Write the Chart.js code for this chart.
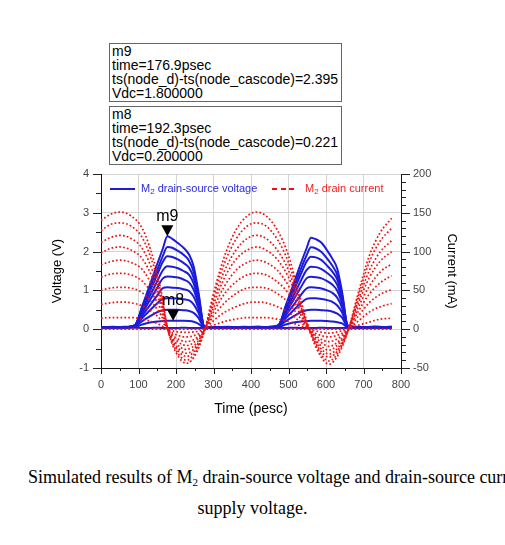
<!DOCTYPE html>
<html>
<head>
<meta charset="utf-8">
<script src="https://cdn.jsdelivr.net/npm/chart.js@4.4.1/dist/chart.umd.min.js"></script>
<style>
    body { margin: 0; background: #fff; width: 505px; height: 545px; overflow: hidden; position: relative; font-family: "Liberation Sans", Arial, sans-serif; }
    #wrap { position: absolute; left: 0; top: 0; width: 505px; height: 430px; }
    .mk { position: absolute; left: 109px; width: 229px; height: 57px; border: 1px solid #666; font-size: 14px; line-height: 14px; padding-left: 2px; color: #000; white-space: nowrap; overflow: hidden; }
    .lg { position: absolute; font-size: 11px; line-height: 12px; white-space: nowrap; }
    .lg sub { font-size: 8px; vertical-align: -2px; line-height: 0; }
    .swatch { position: absolute; height: 2px; }
    .cap { position: absolute; font-family: "Liberation Serif", "Times New Roman", serif; font-size: 18px; line-height: 20px; white-space: nowrap; color: #000; }
    .cap sub { font-size: 11px; vertical-align: -3px; line-height: 0; }
</style>
</head>
<body>
<div class="mk" style="top:43px">m9<br>time=176.9psec<br>ts(node_d)-ts(node_cascode)=2.395<br>Vdc=1.800000</div>
<div class="mk" style="top:106px">m8<br>time=192.3psec<br>ts(node_d)-ts(node_cascode)=0.221<br>Vdc=0.200000</div>
<div id="wrap"><canvas id="chart" width="505" height="430"></canvas></div>
<div class="swatch" style="left:110px;top:188px;width:25px;background:#1c1cdc"></div>
<div class="lg" style="left:141px;top:182px;color:#2a2ae0">M<sub>2</sub> drain-source voltage</div>
<div class="swatch" style="left:272px;top:188px;width:22px;background:repeating-linear-gradient(to right,#f01010 0 5px,transparent 5px 8.5px)"></div>
<div class="lg" style="left:305px;top:182px;color:#f02020">M<sub>2</sub> drain current</div>
<div class="cap" style="left:28px;top:467px">Simulated results of M<sub>2</sub> drain-source voltage and drain-source current versus</div>
<div class="cap" style="left:0;top:498px;width:505px;text-align:center">supply voltage.</div>
<script>
// time points (ps)
const tV = [0, 30, 60, 90, 110, 130, 150, 165, 177, 190, 205, 220, 235, 247, 260, 275, 300, 340, 380, 420, 450,
            473, 493, 513, 533, 548, 560, 573, 588, 603, 618, 630, 643, 658, 690, 730, 775];
const tI = [0, 25, 50, 80, 110, 140, 160, 178, 200, 228, 255, 277, 300, 330, 360, 390, 415, 440, 470, 500,
            527, 555, 580, 608, 635, 660, 685, 715, 745, 775];

// drain-source voltage (V), one per supply voltage
const v00 = [0.03, 0.04, 0.03, 0.04, 0.03, 0.03, 0.04, 0.03, 0.03, 0.03, 0.03, 0.04, 0.03, 0.03, 0.03, 0.03, 0.03, 0.04, 0.03, 0.03, 0.04,
             0.03, 0.03, 0.04, 0.03, 0.03, 0.03, 0.03, 0.04, 0.03, 0.03, 0.03, 0.03, 0.03, 0.04, 0.03, 0.03];
const v02 = [0.03, 0.04, 0.04, 0.06, 0.12, 0.17, 0.20, 0.21, 0.22, 0.221, 0.22, 0.22, 0.21, 0.19, 0.14, 0.04, 0.04, 0.03, 0.04, 0.04, 0.05,
             0.06, 0.12, 0.17, 0.20, 0.21, 0.22, 0.22, 0.22, 0.21, 0.20, 0.18, 0.15, 0.05, 0.04, 0.05, 0.04];
const v04 = [0.04, 0.04, 0.05, 0.07, 0.21, 0.33, 0.44, 0.49, 0.50, 0.50, 0.50, 0.49, 0.47, 0.42, 0.29, 0.05, 0.05, 0.04, 0.05, 0.05, 0.04,
             0.07, 0.21, 0.33, 0.44, 0.49, 0.50, 0.50, 0.49, 0.48, 0.45, 0.40, 0.30, 0.06, 0.05, 0.05, 0.04];
const v06 = [0.03, 0.05, 0.04, 0.08, 0.29, 0.48, 0.67, 0.78, 0.80, 0.80, 0.79, 0.77, 0.74, 0.64, 0.42, 0.06, 0.04, 0.05, 0.05, 0.04, 0.05,
             0.08, 0.29, 0.49, 0.67, 0.78, 0.80, 0.80, 0.78, 0.75, 0.70, 0.61, 0.43, 0.07, 0.05, 0.04, 0.05];
const v08 = [0.05, 0.04, 0.05, 0.09, 0.35, 0.61, 0.87, 1.06, 1.08, 1.07, 1.06, 1.03, 0.98, 0.84, 0.53, 0.06, 0.05, 0.06, 0.04, 0.05, 0.05,
             0.09, 0.36, 0.62, 0.88, 1.05, 1.08, 1.07, 1.05, 1.00, 0.93, 0.81, 0.55, 0.07, 0.04, 0.05, 0.06];
const v10 = [0.04, 0.06, 0.05, 0.09, 0.41, 0.74, 1.07, 1.31, 1.36, 1.35, 1.33, 1.28, 1.20, 1.02, 0.63, 0.07, 0.04, 0.05, 0.05, 0.06, 0.04,
             0.09, 0.42, 0.75, 1.08, 1.31, 1.35, 1.34, 1.31, 1.24, 1.14, 0.99, 0.65, 0.08, 0.05, 0.06, 0.04];
const v12 = [0.05, 0.05, 0.04, 0.10, 0.47, 0.85, 1.24, 1.52, 1.62, 1.61, 1.57, 1.50, 1.40, 1.18, 0.72, 0.07, 0.05, 0.04, 0.06, 0.05, 0.05,
             0.10, 0.48, 0.86, 1.25, 1.52, 1.61, 1.60, 1.55, 1.45, 1.32, 1.14, 0.74, 0.08, 0.06, 0.04, 0.05];
const v14 = [0.04, 0.05, 0.05, 0.10, 0.52, 0.97, 1.41, 1.74, 1.88, 1.86, 1.80, 1.71, 1.58, 1.33, 0.80, 0.08, 0.04, 0.05, 0.05, 0.04, 0.06,
             0.10, 0.53, 0.98, 1.42, 1.74, 1.87, 1.85, 1.78, 1.64, 1.47, 1.28, 0.82, 0.09, 0.05, 0.05, 0.06];
const v16 = [0.05, 0.04, 0.06, 0.10, 0.56, 1.05, 1.53, 1.89, 2.12, 2.10, 2.02, 1.92, 1.76, 1.48, 0.88, 0.08, 0.05, 0.04, 0.05, 0.06, 0.05,
             0.10, 0.57, 1.06, 1.55, 1.90, 2.11, 2.08, 1.99, 1.82, 1.62, 1.40, 0.88, 0.09, 0.04, 0.06, 0.05];
const v18 = [0.04, 0.05, 0.05, 0.10, 0.60, 1.14, 1.68, 2.08, 2.395, 2.33, 2.22, 2.10, 1.92, 1.62, 0.95, 0.08, 0.04, 0.05, 0.04, 0.05, 0.06,
             0.10, 0.62, 1.15, 1.70, 2.08, 2.36, 2.32, 2.23, 2.03, 1.80, 1.56, 0.95, 0.10, 0.05, 0.06, 0.05];

// drain current (mA)
const i00 = [0, 0, 0, 0, 0, 0, 0, 0, 0, 0, 0, 0, 0, 0, 0, 0, 0, 0, 0, 0, 0, 0, 0, 0, 0, 0, 0, 0, 0, 0];
const i02 = [14, 15, 15, 15, 13, 9, 5, 0, -3, -4, -3, 0, 5, 10, 13, 15, 15, 15, 13, 10, 5, 0, -3, -5, -3, 0, 5, 9, 13, 14];
const i04 = [32, 34, 35, 34, 30, 21, 12, 0, -7, -10, -7, 0, 11, 22, 29, 34, 35, 34, 29, 22, 11, 0, -7, -10, -7, 0, 10, 22, 29, 33];
const i06 = [50, 53, 54, 53, 47, 32, 18, 0, -11, -16, -11, 0, 17, 34, 46, 53, 54, 53, 46, 34, 17, 0, -11, -16, -11, 0, 16, 34, 45, 51];
const i08 = [67, 71, 72, 70, 62, 43, 24, 0, -14, -21, -14, 0, 22, 46, 61, 70, 72, 70, 61, 46, 23, 0, -14, -22, -15, 0, 22, 45, 60, 69];
const i10 = [83, 87, 89, 86, 77, 53, 30, 0, -18, -26, -18, 0, 27, 56, 76, 86, 89, 86, 76, 56, 28, 0, -18, -27, -18, 0, 27, 55, 74, 84];
const i12 = [98, 104, 106, 102, 91, 63, 35, 0, -21, -31, -21, 0, 32, 67, 90, 102, 106, 102, 90, 67, 34, 0, -21, -32, -22, 0, 32, 66, 88, 100];
const i14 = [112, 118, 121, 117, 104, 72, 40, 0, -24, -35, -24, 0, 37, 76, 102, 117, 121, 117, 102, 76, 38, 0, -24, -36, -25, 0, 36, 75, 100, 114];
const i16 = [127, 135, 137, 133, 118, 82, 46, 0, -27, -40, -27, 0, 42, 86, 116, 133, 137, 133, 116, 86, 44, 0, -27, -41, -28, 0, 41, 86, 114, 130];
const i18 = [140, 148, 151, 146, 130, 90, 50, 0, -30, -44, -30, 0, 46, 95, 128, 146, 151, 146, 128, 95, 48, 0, -30, -45, -31, 0, 45, 94, 125, 143];

const vdc = ['0.0', '0.2', '0.4', '0.6', '0.8', '1.0', '1.2', '1.4', '1.6', '1.8'];
const voltSeries = [v00, v02, v04, v06, v08, v10, v12, v14, v16, v18];
const currSeries = [i00, i02, i04, i06, i08, i10, i12, i14, i16, i18];

// markers
const markerNames = ['m9', 'm8'];
const markerTimes = [176.9, 192.3];
const markerValues = [2.395, 0.221];

const BLUE = '#1c1cdc';
const RED = '#f01010';
Chart.defaults.font.family = '"Liberation Sans", Arial, sans-serif';

const datasets = [];
voltSeries.forEach((vals, k) => {
    datasets.push({
        label: 'Vds ' + vdc[k],
        data: tV.map((t, i) => ({ x: t, y: vals[i] })),
        borderColor: BLUE,
        borderWidth: 2,
        cubicInterpolationMode: 'monotone',
        yAxisID: 'y',
        order: 2
    });
});
currSeries.forEach((vals, k) => {
    datasets.push({
        label: 'Id ' + vdc[k],
        data: tI.map((t, i) => ({ x: t, y: vals[i] })),
        borderColor: RED,
        borderWidth: 1.7,
        borderDash: [1.7, 2.2],
        cubicInterpolationMode: 'monotone',
        yAxisID: 'y1',
        order: 1
    });
});

// small and big tick marks on the outside of the axes
const tickMarks = {
    id: 'tickMarks',
    afterDraw(chart) {
        const { ctx, chartArea: a, scales } = chart;
        ctx.save();
        ctx.strokeStyle = '#222';
        ctx.lineWidth = 1;
        ctx.beginPath();
        scales.x.ticks.forEach(t => {
            const p = Math.round(scales.x.getPixelForValue(t.value)) + 0.5;
            const len = t.value % 100 === 0 ? 6 : 3;
            ctx.moveTo(p, a.bottom);
            ctx.lineTo(p, a.bottom + len);
        });
        scales.y.ticks.forEach(t => {
            const p = Math.round(scales.y.getPixelForValue(t.value)) + 0.5;
            const len = Number.isInteger(t.value) ? 8 : 5;
            ctx.moveTo(a.left - len, p);
            ctx.lineTo(a.left, p);
        });
        scales.y1.ticks.forEach(t => {
            const p = Math.round(scales.y1.getPixelForValue(t.value)) + 0.5;
            const len = t.value % 50 === 0 ? 9 : 5;
            ctx.moveTo(a.right, p);
            ctx.lineTo(a.right + len, p);
        });
        ctx.stroke();
        ctx.restore();
    }
};

// m9 / m8 markers: black triangle pointing at the trace, name above
const markers = {
    id: 'markers',
    afterDatasetsDraw(chart) {
        const { ctx, scales } = chart;
        ctx.save();
        markerNames.forEach((name, i) => {
            const px = scales.x.getPixelForValue(markerTimes[i]);
            const py = scales.y.getPixelForValue(markerValues[i]);
            ctx.fillStyle = '#000';
            ctx.beginPath();
            ctx.moveTo(px, py);
            ctx.lineTo(px - 6, py - 11);
            ctx.lineTo(px + 6, py - 11);
            ctx.closePath();
            ctx.fill();
            ctx.font = '16px "Liberation Sans", Arial, sans-serif';
            ctx.textAlign = 'center';
            ctx.textBaseline = 'middle';
            ctx.fillText(name, px, py - 20);
        });
        ctx.restore();
    }
};

const tickFont = { size: 11 };
new Chart(document.getElementById('chart'), {
    type: 'line',
    data: { datasets },
    options: {
        responsive: false,
        animation: false,
        devicePixelRatio: 1,
        layout: { padding: { top: 174, left: 0, right: 0, bottom: 0 } },
        elements: { point: { radius: 0 } },
        plugins: { legend: { display: false }, tooltip: { enabled: false } },
        scales: {
            x: {
                type: 'linear', min: 0, max: 800,
                afterFit: s => { s.height = 62; },
                ticks: { stepSize: 50, autoSkip: false, maxRotation: 0, padding: 10, color: '#444', font: tickFont,
                         callback: v => (v % 100 === 0 ? v : '') },
                grid: { drawTicks: false, color: c => (c.tick && c.tick.value % 100 === 0 ? '#d4d4d4' : 'rgba(0,0,0,0)') },
                border: { color: '#111', width: 1 },
                title: { display: true, text: 'Time (pesc)', color: '#000', font: { size: 14 }, padding: { top: 0, bottom: 12 } }
            },
            y: {
                position: 'left', min: -1, max: 4,
                afterFit: s => { s.width = 101; },
                ticks: { stepSize: 0.5, autoSkip: false, padding: 12, color: '#444', font: tickFont,
                         callback: v => (Number.isInteger(v) ? v : '') },
                grid: { drawTicks: false, color: c => (c.tick && Number.isInteger(c.tick.value) ? '#d4d4d4' : 'rgba(0,0,0,0)') },
                border: { color: '#111', width: 1 },
                title: { display: true, text: 'Voltage (V)', color: '#000', font: { size: 13 }, padding: { top: 50, bottom: 0 } }
            },
            y1: {
                position: 'right', min: -50, max: 200,
                afterFit: s => { s.width = 104; },
                ticks: { stepSize: 10, autoSkip: false, padding: 12, color: '#444', font: tickFont,
                         callback: v => (v % 50 === 0 ? v : '') },
                grid: { display: false, drawTicks: false },
                border: { display: true, color: '#111', width: 1 },
                title: { display: true, text: 'Current (mA)', color: '#000', font: { size: 13 }, padding: { top: 46, bottom: 0 } }
            }
        }
    },
    plugins: [tickMarks, markers]
});
</script>
</body>
</html>
